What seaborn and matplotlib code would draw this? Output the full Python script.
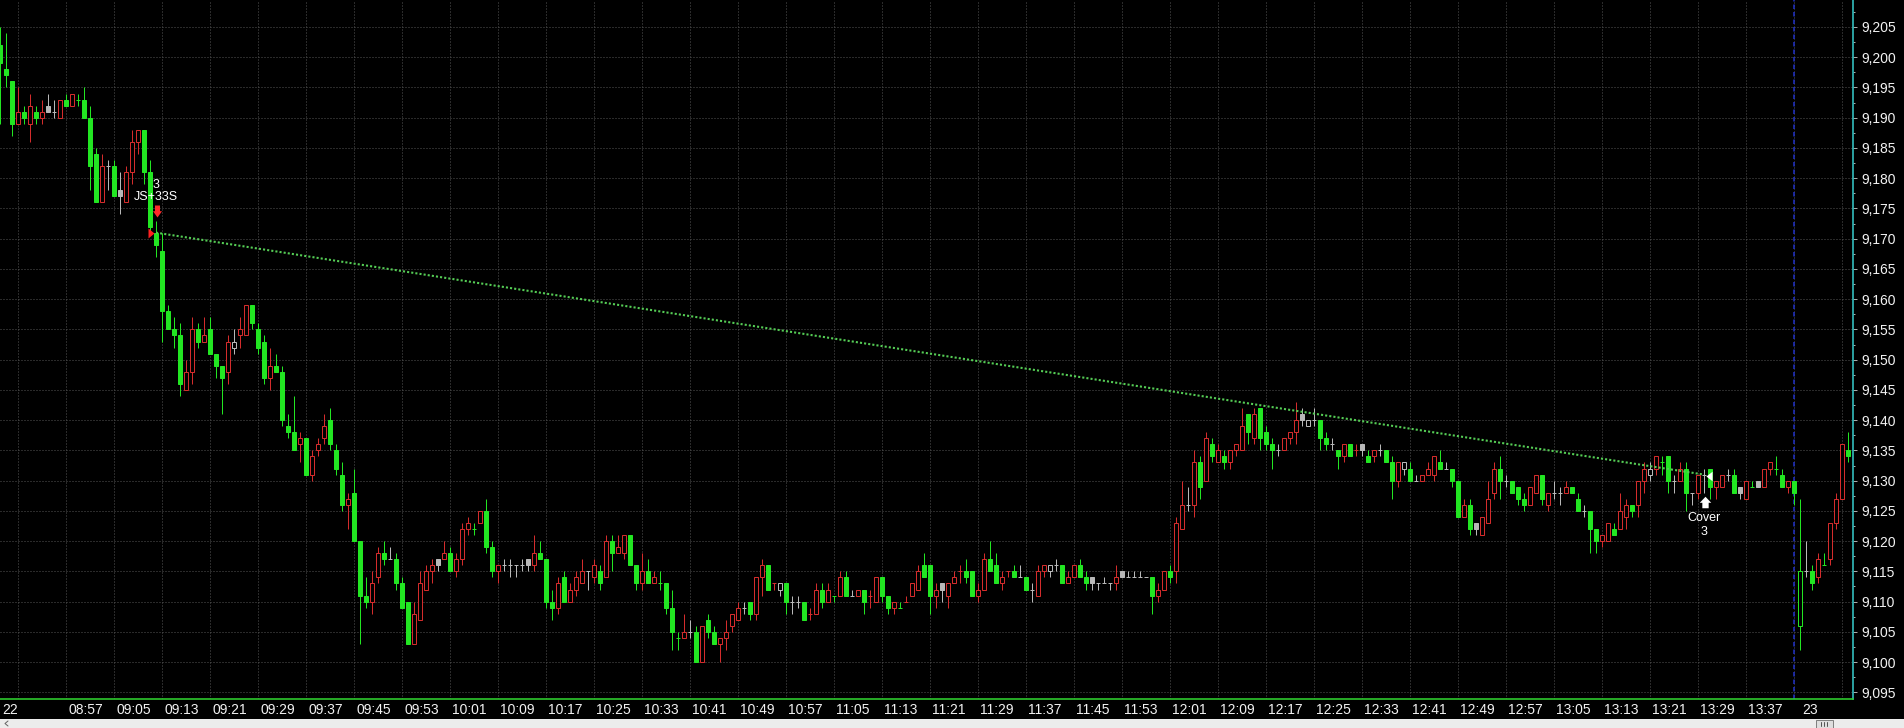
import numpy as np
import pandas as pd
import matplotlib
matplotlib.use("Agg")
import matplotlib.pyplot as plt
from matplotlib.patches import Rectangle
from matplotlib.transforms import ScaledTranslation
import seaborn as sns

# ---------------- data ----------------
session_days = ["22", "23"]
session_starts = ["08:46", "15:00"]
session_lengths = [300, 9]

opens = [
    9202, 9198, 9196, 9189, 9191, 9189, 9191, 9190, 9192, 9191,
    9190, 9193, 9192, 9193, 9193, 9190, 9184, 9176, 9182, 9182,
    9178, 9176, 9181, 9186, 9188, 9181, 9171, 9168, 9158, 9155,
    9154, 9145, 9148, 9155, 9153, 9155, 9151, 9149, 9148, 9152,
    9154, 9154, 9159, 9155, 9153, 9147, 9149, 9148, 9139, 9138,
    9136, 9137, 9131, 9135, 9137, 9140, 9135, 9131, 9126, 9128,
    9120, 9111, 9110, 9114, 9118, 9117, 9117, 9113, 9110, 9103,
    9107, 9112, 9115, 9117, 9117, 9118, 9115, 9117, 9122, 9122,
    9123, 9125, 9119, 9115, 9116, 9116, 9116, 9116, 9117, 9116,
    9118, 9117, 9110, 9109, 9114, 9110, 9112, 9113, 9115, 9114,
    9115, 9114, 9120, 9118, 9118, 9121, 9116, 9113, 9115, 9113,
    9113, 9113, 9109, 9104, 9104, 9105, 9105, 9100, 9107, 9105,
    9103, 9104, 9106, 9107, 9109, 9110, 9108, 9114, 9116, 9113,
    9112, 9113, 9110, 9110, 9110, 9108, 9108, 9112, 9110, 9111,
    9111, 9114, 9111, 9111, 9112, 9111, 9110, 9114, 9111, 9109,
    9109, 9110, 9111, 9112, 9116, 9116, 9111, 9113, 9111, 9113,
    9115, 9115, 9115, 9111, 9112, 9117, 9116, 9113, 9115, 9115,
    9114, 9114, 9112, 9111, 9115, 9115, 9116, 9116, 9113, 9114,
    9116, 9114, 9114, 9113, 9113, 9113, 9113, 9115, 9114, 9114,
    9114, 9114, 9114, 9111, 9112, 9115, 9115, 9122, 9126, 9126,
    9133, 9130, 9136, 9133, 9134, 9133, 9135, 9135, 9141, 9137,
    9142, 9138, 9136, 9135, 9135, 9137, 9138, 9141, 9139, 9140,
    9140, 9137, 9136, 9135, 9134, 9136, 9135, 9136, 9134, 9134,
    9135, 9135, 9133, 9130, 9132, 9132, 9130, 9130, 9131, 9131,
    9133, 9132, 9132, 9130, 9124, 9126, 9123, 9121, 9123, 9128,
    9132, 9130, 9130, 9129, 9127, 9126, 9128, 9131, 9126, 9128,
    9128, 9128, 9129, 9127, 9125, 9125, 9122, 9120, 9120, 9122,
    9122, 9124, 9126, 9126, 9130, 9131, 9132, 9133, 9134, 9130,
    9130, 9132, 9128, 9128, 9131, 9132, 9129, 9129, 9131, 9131,
    9129, 9127, 9129, 9130, 9129, 9132, 9132, 9131, 9129, 9130,
    9106, 9115, 9115, 9114, 9116, 9117, 9123, 9127, 9135,
]
highs = [
    9205, 9204, 9196, 9195, 9192, 9194, 9192, 9193, 9194, 9193,
    9193, 9194, 9194, 9194, 9195, 9192, 9185, 9184, 9183, 9183,
    9181, 9182, 9188, 9188, 9188, 9183, 9173, 9171, 9159, 9157,
    9156, 9150, 9157, 9156, 9157, 9157, 9151, 9149, 9154, 9155,
    9157, 9159, 9159, 9156, 9154, 9152, 9151, 9149, 9141, 9144,
    9138, 9137, 9135, 9137, 9141, 9142, 9136, 9133, 9128, 9132,
    9120, 9114, 9115, 9119, 9120, 9119, 9118, 9114, 9110, 9110,
    9115, 9116, 9117, 9117, 9120, 9119, 9118, 9123, 9124, 9123,
    9125, 9127, 9120, 9116, 9117, 9117, 9116, 9117, 9117, 9121,
    9120, 9117, 9112, 9114, 9115, 9113, 9115, 9117, 9115, 9117,
    9116, 9121, 9121, 9121, 9121, 9121, 9116, 9118, 9117, 9115,
    9115, 9113, 9112, 9105, 9108, 9107, 9106, 9106, 9108, 9106,
    9104, 9107, 9108, 9110, 9110, 9110, 9114, 9117, 9116, 9113,
    9113, 9113, 9111, 9111, 9110, 9109, 9113, 9113, 9113, 9111,
    9115, 9115, 9112, 9112, 9112, 9112, 9114, 9114, 9111, 9110,
    9110, 9111, 9113, 9116, 9118, 9116, 9113, 9113, 9113, 9115,
    9116, 9117, 9115, 9113, 9118, 9120, 9118, 9115, 9115, 9116,
    9116, 9114, 9113, 9116, 9116, 9116, 9117, 9116, 9115, 9116,
    9117, 9115, 9114, 9113, 9114, 9113, 9116, 9115, 9115, 9115,
    9115, 9114, 9114, 9113, 9115, 9116, 9124, 9130, 9129, 9135,
    9134, 9138, 9137, 9136, 9135, 9135, 9136, 9142, 9141, 9142,
    9142, 9139, 9137, 9136, 9137, 9138, 9143, 9142, 9140, 9142,
    9140, 9138, 9137, 9135, 9136, 9136, 9136, 9136, 9135, 9135,
    9136, 9135, 9134, 9133, 9133, 9133, 9131, 9131, 9133, 9134,
    9135, 9133, 9132, 9130, 9127, 9127, 9123, 9124, 9130, 9133,
    9134, 9131, 9130, 9129, 9128, 9129, 9131, 9131, 9128, 9130,
    9129, 9130, 9129, 9128, 9126, 9125, 9122, 9121, 9123, 9123,
    9128, 9127, 9126, 9130, 9133, 9133, 9134, 9134, 9134, 9131,
    9133, 9133, 9128, 9131, 9132, 9132, 9130, 9131, 9132, 9132,
    9129, 9130, 9130, 9130, 9132, 9133, 9134, 9132, 9130, 9130,
    9127, 9120, 9116, 9118, 9118, 9123, 9128, 9136, 9138,
]
lows = [
    9189, 9195, 9187, 9189, 9189, 9186, 9189, 9189, 9191, 9190,
    9190, 9192, 9192, 9192, 9190, 9178, 9176, 9176, 9178, 9177,
    9174, 9176, 9179, 9184, 9179, 9171, 9167, 9153, 9155, 9152,
    9144, 9145, 9146, 9152, 9153, 9151, 9147, 9141, 9146, 9151,
    9152, 9154, 9155, 9151, 9146, 9145, 9148, 9139, 9137, 9135,
    9133, 9131, 9130, 9134, 9136, 9135, 9131, 9125, 9122, 9120,
    9103, 9109, 9108, 9113, 9116, 9117, 9112, 9109, 9103, 9103,
    9107, 9112, 9113, 9115, 9117, 9115, 9114, 9116, 9121, 9121,
    9123, 9118, 9114, 9113, 9115, 9114, 9114, 9115, 9115, 9115,
    9117, 9109, 9107, 9108, 9110, 9110, 9111, 9113, 9112, 9113,
    9112, 9114, 9115, 9118, 9117, 9116, 9112, 9112, 9113, 9113,
    9112, 9108, 9102, 9102, 9104, 9104, 9100, 9100, 9104, 9103,
    9100, 9102, 9105, 9107, 9108, 9107, 9107, 9111, 9112, 9112,
    9111, 9108, 9108, 9109, 9107, 9107, 9108, 9109, 9110, 9110,
    9111, 9111, 9111, 9111, 9108, 9109, 9110, 9110, 9108, 9108,
    9109, 9110, 9111, 9112, 9114, 9108, 9109, 9110, 9109, 9113,
    9113, 9113, 9111, 9110, 9112, 9115, 9113, 9112, 9114, 9114,
    9114, 9112, 9110, 9111, 9114, 9114, 9115, 9113, 9113, 9114,
    9114, 9112, 9112, 9112, 9113, 9112, 9112, 9114, 9114, 9114,
    9114, 9114, 9108, 9110, 9112, 9113, 9113, 9122, 9125, 9124,
    9127, 9130, 9133, 9133, 9132, 9132, 9134, 9135, 9136, 9136,
    9135, 9135, 9132, 9134, 9135, 9136, 9136, 9139, 9139, 9139,
    9135, 9135, 9135, 9132, 9133, 9134, 9134, 9134, 9133, 9133,
    9134, 9133, 9127, 9129, 9131, 9130, 9130, 9130, 9131, 9130,
    9132, 9132, 9129, 9124, 9124, 9121, 9121, 9121, 9123, 9127,
    9127, 9129, 9128, 9126, 9125, 9126, 9128, 9126, 9125, 9127,
    9126, 9128, 9128, 9125, 9124, 9118, 9118, 9119, 9120, 9121,
    9122, 9122, 9124, 9124, 9128, 9130, 9131, 9131, 9128, 9128,
    9130, 9125, 9126, 9127, 9128, 9127, 9127, 9129, 9130, 9128,
    9127, 9127, 9129, 9129, 9129, 9131, 9131, 9129, 9128, 9126,
    9102, 9114, 9112, 9113, 9116, 9116, 9122, 9127, 9133,
]
closes = [
    9199, 9197, 9189, 9191, 9190, 9192, 9190, 9191, 9191, 9191,
    9193, 9192, 9194, 9193, 9190, 9182, 9176, 9182, 9182, 9177,
    9177, 9181, 9186, 9188, 9181, 9172, 9169, 9158, 9155, 9154,
    9146, 9148, 9155, 9153, 9154, 9151, 9149, 9147, 9153, 9153,
    9155, 9159, 9156, 9152, 9147, 9149, 9148, 9140, 9138, 9135,
    9137, 9131, 9134, 9136, 9139, 9136, 9132, 9126, 9127, 9120,
    9111, 9110, 9113, 9118, 9117, 9117, 9113, 9109, 9103, 9108,
    9113, 9115, 9116, 9116, 9118, 9115, 9117, 9122, 9123, 9122,
    9125, 9119, 9115, 9116, 9116, 9116, 9116, 9116, 9116, 9118,
    9117, 9110, 9109, 9113, 9110, 9112, 9114, 9115, 9115, 9116,
    9113, 9120, 9118, 9119, 9121, 9116, 9113, 9115, 9113, 9114,
    9113, 9109, 9105, 9104, 9105, 9105, 9100, 9106, 9105, 9103,
    9104, 9105, 9108, 9109, 9109, 9108, 9114, 9116, 9112, 9113,
    9113, 9110, 9110, 9110, 9107, 9108, 9112, 9110, 9112, 9111,
    9114, 9111, 9111, 9112, 9110, 9111, 9114, 9111, 9109, 9110,
    9109, 9110, 9113, 9115, 9114, 9111, 9112, 9112, 9113, 9114,
    9115, 9114, 9111, 9112, 9117, 9115, 9113, 9114, 9115, 9114,
    9114, 9112, 9112, 9115, 9116, 9116, 9116, 9113, 9114, 9116,
    9114, 9113, 9113, 9113, 9113, 9113, 9114, 9114, 9114, 9114,
    9114, 9114, 9111, 9112, 9115, 9114, 9123, 9126, 9126, 9133,
    9129, 9137, 9134, 9135, 9133, 9135, 9136, 9139, 9138, 9141,
    9137, 9136, 9135, 9135, 9137, 9138, 9140, 9140, 9140, 9140,
    9137, 9136, 9136, 9134, 9136, 9134, 9135, 9135, 9133, 9135,
    9135, 9133, 9130, 9133, 9133, 9130, 9130, 9131, 9132, 9134,
    9132, 9132, 9130, 9124, 9126, 9122, 9122, 9124, 9127, 9132,
    9130, 9130, 9128, 9127, 9126, 9129, 9131, 9127, 9128, 9128,
    9128, 9129, 9128, 9125, 9125, 9122, 9120, 9121, 9123, 9121,
    9125, 9126, 9125, 9130, 9132, 9132, 9134, 9133, 9130, 9130,
    9132, 9128, 9128, 9131, 9131, 9129, 9130, 9131, 9131, 9128,
    9128, 9130, 9129, 9129, 9132, 9133, 9132, 9129, 9130, 9128,
    9115, 9115, 9113, 9117, 9116, 9123, 9127, 9136, 9134,
]

trade_entry_time = "09:12"
trade_entry_price = 9171
trade_entry_text = ["3", "JS+33S"]
trade_exit_time = "13:30"
trade_exit_price = 9131
trade_exit_text = ["Cover", "3"]

price_ticks = list(range(9095, 9206, 5))

# ---------------- build table ----------------
times, days = [], []
for d, st, ln in zip(session_days, session_starts, session_lengths):
    rng = pd.date_range("2000-01-01 " + st, periods=ln, freq="min")
    times += list(rng.strftime("%H:%M"))
    days += [d] * ln
df = pd.DataFrame({"day": days, "time": times, "open": opens, "high": highs,
                   "low": lows, "close": closes})
n = len(df)
df["x"] = np.arange(1, n + 1)
o = df["open"].to_numpy(float)
h = df["high"].to_numpy(float)
l = df["low"].to_numpy(float)
c = df["close"].to_numpy(float)
x = df["x"].to_numpy(float)
prev = np.r_[o[0], c[:-1]]

RED = "#d42c2c"
GREEN = "#22e622"
GRAY = "#b8b8b8"
col = np.where(c > prev, RED, np.where(c < prev, GREEN, GRAY))

# ---------------- figure ----------------
sns.set_style("dark", {"axes.facecolor": "black", "figure.facecolor": "black"})
plt.rcParams["font.family"] = ["Liberation Sans", "DejaVu Sans"]

W, H = 1904, 728
fig = plt.figure(figsize=(W / 100, H / 100), dpi=100, facecolor="black")
ax = fig.add_axes([0, 29 / H, 1853 / W, 699 / H])
ax.set_facecolor("black")
ax.grid(False)

PX = 0.72  # one pixel in points

# grid
GRID = "#555555"
for yv in price_ticks:
    ax.axhline(yv, color=GRID, lw=PX, ls=(0, (1, 2)), zorder=1)

first_idx = [int(np.where(df["day"] == d)[0][0]) for d in session_days]
last_idx = [int(np.where(df["day"] == d)[0][-1]) for d in session_days]
tick_idx = [i for i in range(n) if (i - 3) % 8 == 0]
for i in tick_idx:
    ax.axvline(x[i], color=GRID, lw=PX, ls=(0, (1, 2)), zorder=1)

# session separator
ax.axvline(x[last_idx[0]], color="#2233cc", lw=1.5 * PX, ls=(0, (3, 2)), zorder=2)

# wicks
ax.vlines(x, l, h, colors=col, lw=PX, zorder=3)
# bodies
nd = o != c
face = np.where(c > o, "black", col)
ax.bar(x[nd], np.abs(c - o)[nd], bottom=np.minimum(o, c)[nd], width=0.55,
       color=face[nd], edgecolor=col[nd], linewidth=PX, zorder=4)
dj = ~nd
ax.hlines(o[dj], x[dj] - 0.36, x[dj] + 0.36, colors=col[dj], lw=PX, zorder=4)

# trade line (seaborn)
day1 = df[df["day"] == session_days[0]]
ex_i = int(day1.index[day1["time"] == trade_entry_time][0])
xx_i = int(day1.index[day1["time"] == trade_exit_time][0])
trade = pd.DataFrame({"x": [x[ex_i], x[xx_i]],
                      "price": [trade_entry_price, trade_exit_price]})
sns.lineplot(data=trade, x="x", y="price", ax=ax, color="#55cc55",
             lw=1.5, linestyle=(0, (1, 1)), zorder=5)


def shifted(dx, dy):
    return ax.transData + ScaledTranslation(dx / 100, dy / 100, fig.dpi_scale_trans)


down_arrow = [(-0.42, 1), (0.42, 1), (0.42, 0.05), (0.75, 0.05), (0, -1),
              (-0.75, 0.05), (-0.42, 0.05)]
up_arrow = [(-0.55, -1), (0.55, -1), (0.55, -0.05), (1, -0.05), (0, 1),
            (-1, -0.05), (-0.55, -0.05)]
tri_right = [(-0.6, -1), (0.6, 0), (-0.6, 1)]
tri_left = [(0.65, -1), (-0.65, 0), (0.65, 1)]

# entry
ax.plot([x[ex_i]], [trade_entry_price], marker=tri_right, ms=10 * PX, color="#ff2020",
        mew=0, ls="none", transform=shifted(-5, -0.5), zorder=6)
ax.plot([x[ex_i]], [h[ex_i]], marker=down_arrow, ms=12 * PX, color="#ff2a2a",
        mew=0, ls="none", transform=shifted(0.5, 10), zorder=6)
for txt, dy in zip(trade_entry_text, [36, 24]):
    ax.text(x[ex_i], h[ex_i], txt, color="white", fontsize=9, ha="center",
            va="center", transform=shifted(0, dy), zorder=7)
# exit
ax.plot([x[xx_i]], [trade_exit_price], marker=tri_left, ms=9.5 * PX, color="white",
        mew=0, ls="none", transform=shifted(4.5, -1), zorder=6)
ax.plot([x[xx_i]], [l[xx_i]], marker=up_arrow, ms=11.5 * PX, color="white",
        mew=0, ls="none", transform=shifted(1, -9), zorder=6)
for txt, dy in zip(trade_exit_text, [-25, -39]):
    ax.text(x[xx_i], l[xx_i], txt, color="white", fontsize=9, ha="center",
            va="center", transform=shifted(0, dy), zorder=7)

# axes limits
ax.set_xlim(1.0, 309.83)
ax.set_ylim(9093.9, 9209.46)
ax.set_xlabel("")
ax.set_ylabel("")

# spines
for s in ["top", "left"]:
    ax.spines[s].set_visible(False)
ax.spines["right"].set_color("#35c4c4")
ax.spines["right"].set_linewidth(1.6 * PX)
ax.spines["bottom"].set_color("#2fd02f")
ax.spines["bottom"].set_linewidth(1.6 * PX)

# y axis
ax.yaxis.tick_right()
ax.set_yticks(price_ticks)
ax.set_yticklabels([f"{v:,}" for v in price_ticks])
ax.set_yticks([v + 2.5 for v in price_ticks[:-1]] + [price_ticks[-1] + 2.5], minor=True)
ax.tick_params(axis="y", which="major", direction="out", length=4 * PX, width=PX,
               color="#aaaaaa", pad=4.5 * PX, labelsize=10, labelcolor="#f2f2f2")
ax.tick_params(axis="y", which="minor", direction="out", length=2 * PX, width=PX,
               color="#aaaaaa")

# x axis
date_pos = {first_idx[k]: session_days[k] for k in range(len(session_days))}
xt = sorted(set(tick_idx) | set(date_pos))
labels = []
for i in xt:
    if i in date_pos:
        labels.append(date_pos[i])
    elif min(abs(i - j) for j in date_pos) < 8:
        labels.append("")
    else:
        labels.append(df["time"].iloc[i])
ax.set_xticks(x[xt])
ax.set_xticklabels(labels)
ax.tick_params(axis="x", which="major", direction="out", length=3 * PX, width=PX,
               color="#2fd02f", pad=1.5 * PX, labelsize=10, labelcolor="#f2f2f2")
for lab in ax.get_xticklabels():
    lab.set_horizontalalignment("left")
    lab.set_transform(lab.get_transform() + ScaledTranslation(2 / 100, 0, fig.dpi_scale_trans))

# bottom scroll strip
fig.patches.append(Rectangle((0, 0), 1, 9 / H, transform=fig.transFigure,
                             facecolor="#ececec", edgecolor="none", zorder=0))
fig.patches.append(Rectangle((1816 / W, 0.5 / H), 17 / W, 8 / H, transform=fig.transFigure,
                             facecolor="#dedede", edgecolor="#808080", lw=PX, zorder=1))
for gx in [1821, 1824, 1827]:
    fig.lines.append(plt.Line2D([gx / W, gx / W], [2 / H, 6.5 / H], transform=fig.transFigure,
                                color="#555555", lw=PX))
fig.lines.append(plt.Line2D([8 / W, 5 / W, 8 / W], [7 / H, 4.5 / H, 2 / H],
                            transform=fig.transFigure, color="#666666", lw=PX))

fig.savefig("out.png", dpi=100, facecolor="black")
